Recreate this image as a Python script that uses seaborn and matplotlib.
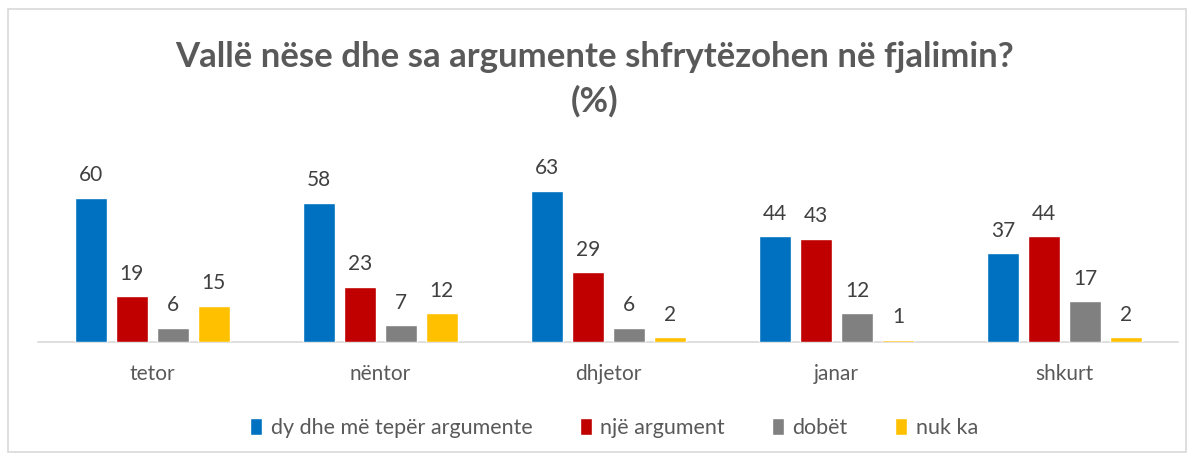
import pandas as pd
import seaborn as sns
import matplotlib.pyplot as plt
from matplotlib.patches import Rectangle

# data
months = ['tetor', 'nëntor', 'dhjetor', 'janar', 'shkurt']
series = ['dy dhe më tepër argumente', 'një argument', 'dobët', 'nuk ka']
dy_dhe_me_teper = [60, 58, 63, 44, 37]
nje_argument = [19, 23, 29, 43, 44]
dobet = [6, 7, 6, 12, 17]
nuk_ka = [15, 12, 2, 1, 2]
colors = ['#0070C0', '#C00000', '#808080', '#FFC000']

rows = []
for name, vals in zip(series, [dy_dhe_me_teper, nje_argument, dobet, nuk_ka]):
    for m, v in zip(months, vals):
        rows.append({'muaji': m, 'seria': name, 'vlera': v})
df = pd.DataFrame(rows)

sns.set_style('white')
plt.rcParams['font.family'] = ['Lato', 'DejaVu Sans']

fig = plt.figure(figsize=(11.94, 4.59), dpi=100)
ax = fig.add_axes([0.032, 0.255, 0.955, 0.366])

sns.barplot(data=df, x='muaji', y='vlera', hue='seria', order=months,
            hue_order=series, palette=colors, width=0.72, gap=0.22,
            saturation=1, ax=ax, zorder=3)

for cont in ax.containers:
    ax.bar_label(cont, padding=9, fontsize=15, color='#404040')

ax.set_ylim(0, 70)
ax.set_xlim(-0.5, 4.5)
ax.set_xlabel('')
ax.set_ylabel('')
ax.set_yticks([])
ax.tick_params(axis='x', length=0, labelsize=15, labelcolor='#595959', pad=16)
for s in ['top', 'left', 'right']:
    ax.spines[s].set_visible(False)
ax.spines['bottom'].set_color('#D9D9D9')
ax.spines['bottom'].set_linewidth(1.2)
ax.spines['bottom'].set_zorder(1)

ax.legend(loc='upper center', bbox_to_anchor=(0.505, -0.335), ncol=4, frameon=False,
          fontsize=15.5, labelcolor='#595959', handlelength=0.55, handleheight=0.85,
          handletextpad=0.4, columnspacing=2.2)

fig.text(0.498, 0.828, 'Vallë nëse dhe sa argumente shfrytëzohen në fjalimin?\n(%)',
         ha='center', va='center', fontsize=25, fontweight='bold', color='#595959',
         linespacing=1.45)

fig.patches.append(Rectangle((0.007, 0.015), 0.986, 0.965, transform=fig.transFigure,
                             fill=False, edgecolor='#D9D9D9', linewidth=1.2))

fig.savefig('out.png', dpi=100)
